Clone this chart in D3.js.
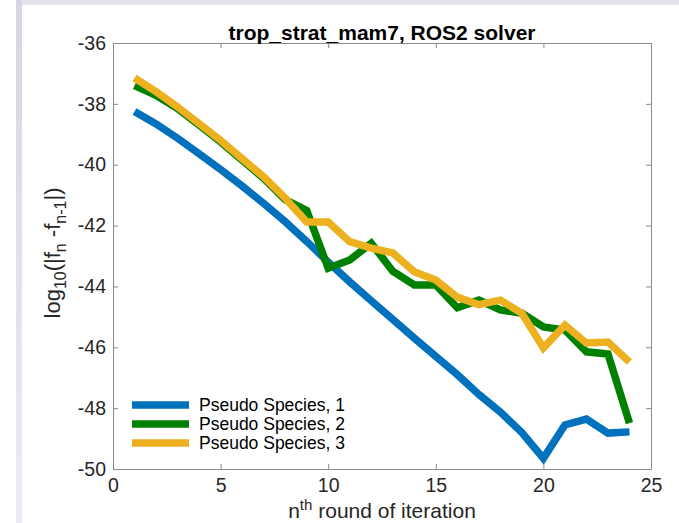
<!DOCTYPE html>
<html>
<head>
<meta charset="utf-8">
<script src="https://cdn.jsdelivr.net/npm/d3@7"></script>
<style>
  body { margin: 0; background: #fff; }
  svg { display: block; font-family: "Liberation Sans", Arial, sans-serif; }
</style>
</head>
<body>
<div id="chart"></div>
<script>
// iteration index n
const iterations = d3.range(1, 25);

const species1 = [-38.25, -38.66, -39.13, -39.64, -40.16, -40.7, -41.27, -41.87, -42.52, -43.2,
  -43.85, -44.47, -45.08, -45.7, -46.3, -46.9, -47.55, -48.13, -48.8, -49.65,
  -48.55, -48.36, -48.82, -48.78];
const species2 = [-37.4, -37.72, -38.15, -38.7, -39.25, -39.85, -40.45, -41.15, -41.5, -43.4,
  -43.13, -42.58, -43.5, -43.95, -43.95, -44.7, -44.45, -44.77, -44.88, -45.33,
  -45.43, -46.15, -46.22, -48.49];
const species3 = [-37.15, -37.6, -38.1, -38.65, -39.2, -39.8, -40.4, -41.1, -41.88, -41.88,
  -42.53, -42.74, -42.9, -43.52, -43.79, -44.35, -44.6, -44.45, -44.88, -46.02,
  -45.27, -45.86, -45.83, -46.48];

const seriesNames = ["Pseudo Species, 1", "Pseudo Species, 2", "Pseudo Species, 3"];
const seriesColors = ["#0072BD", "#008000", "#EDB120"];
const xTicks = [0, 5, 10, 15, 20, 25];
const yTicks = [-50, -48, -46, -44, -42, -40, -38, -36];

const W = 679, H = 523;
const mLeft = 113, mRight = 651, mTop = 43, mBottom = 469;
const fontFam = "Liberation Sans, Arial, sans-serif";

const svg = d3.select("#chart").append("svg")
  .attr("width", W).attr("height", H);

// slide-like background strips
const grad = svg.append("defs").append("linearGradient")
  .attr("id", "strip").attr("x1", 0).attr("y1", 0).attr("x2", 0).attr("y2", 1);
grad.append("stop").attr("offset", "0%").attr("stop-color", "#d6d6e4");
grad.append("stop").attr("offset", "100%").attr("stop-color", "#ececf4");
svg.append("rect").attr("x", 16).attr("y", 0).attr("width", W - 16).attr("height", 5).attr("fill", "#e3e3ec");
svg.append("rect").attr("x", 16).attr("y", 0).attr("width", 6).attr("height", H).attr("fill", "url(#strip)");

const x = d3.scaleLinear().domain([0, 25]).range([mLeft, mRight]);
const y = d3.scaleLinear().domain([-50, -36]).range([mBottom, mTop]);

const allSeries = [species1, species2, species3];

// lines
const line = d3.line().x((d, i) => x(iterations[i])).y(d => y(d));
allSeries.forEach((s, k) => {
  svg.append("path")
    .datum(s)
    .attr("d", line)
    .attr("fill", "none")
    .attr("stroke", seriesColors[k])
    .attr("stroke-width", 7.5)
    .attr("stroke-linejoin", "miter");
});

// axes (ticks inward, mirrored on top and right)
const axColor = "#8a8a8a";
const tk = 5;
svg.append("g").attr("transform", `translate(0,${mBottom})`)
  .call(d3.axisBottom(x).tickValues(xTicks).tickSizeInner(-tk).tickSizeOuter(0).tickPadding(9)
    .tickFormat(d => String(d)))
  .call(g => g.select(".domain").attr("stroke", axColor))
  .call(g => g.selectAll(".tick line").attr("stroke", axColor))
  .call(g => g.selectAll("text").attr("fill", "#262626").style("font-size", "19.5px")
    .style("font-family", fontFam));

svg.append("g").attr("transform", `translate(0,${mTop})`)
  .call(d3.axisTop(x).tickValues(xTicks).tickSizeInner(-tk).tickSizeOuter(0).tickFormat(""))
  .call(g => g.select(".domain").attr("stroke", axColor))
  .call(g => g.selectAll(".tick line").attr("stroke", axColor));

svg.append("g").attr("transform", `translate(${mLeft},0)`)
  .call(d3.axisLeft(y).tickValues(yTicks).tickSizeInner(-tk).tickSizeOuter(0).tickPadding(7)
    .tickFormat(d => String(d)))
  .call(g => g.select(".domain").attr("stroke", axColor))
  .call(g => g.selectAll(".tick line").attr("stroke", axColor))
  .call(g => g.selectAll("text").attr("fill", "#262626").style("font-size", "19.5px")
    .style("font-family", fontFam));

svg.append("g").attr("transform", `translate(${mRight},0)`)
  .call(d3.axisRight(y).tickValues(yTicks).tickSizeInner(-tk).tickSizeOuter(0).tickFormat(""))
  .call(g => g.select(".domain").attr("stroke", axColor))
  .call(g => g.selectAll(".tick line").attr("stroke", axColor));

// title
svg.append("text")
  .attr("x", (mLeft + mRight) / 2).attr("y", 40)
  .attr("text-anchor", "middle")
  .style("font-size", "21px").style("font-weight", "bold")
  .attr("fill", "#000")
  .text("trop_strat_mam7, ROS2 solver");

// x label
const xl = svg.append("text")
  .attr("x", (mLeft + mRight) / 2).attr("y", 518)
  .attr("text-anchor", "middle")
  .style("font-size", "21px").attr("fill", "#262626");
xl.append("tspan").text("n");
xl.append("tspan").attr("dy", -8).style("font-size", "15px").text("th");
xl.append("tspan").attr("dy", 8).text(" round of iteration");

// y label
const yl = svg.append("text")
  .attr("transform", `translate(60,${(mTop + mBottom) / 2 - 3}) rotate(-90)`)
  .attr("text-anchor", "middle")
  .style("font-size", "22px").attr("fill", "#262626");
yl.append("tspan").text("log");
yl.append("tspan").attr("dy", 6).style("font-size", "16px").text("10");
yl.append("tspan").attr("dy", -6).text("(|f");
yl.append("tspan").attr("dy", 6).style("font-size", "16px").text("n");
yl.append("tspan").attr("dy", -6).text(" -f");
yl.append("tspan").attr("dy", 6).style("font-size", "16px").text("n-1");
yl.append("tspan").attr("dy", -6).text("|)");

// legend
const legRows = [405, 424, 443];
seriesNames.forEach((name, k) => {
  svg.append("line")
    .attr("x1", 132).attr("x2", 189)
    .attr("y1", legRows[k]).attr("y2", legRows[k])
    .attr("stroke", seriesColors[k]).attr("stroke-width", 7.5);
  svg.append("text")
    .attr("x", 199).attr("y", legRows[k] + 6)
    .style("font-size", "17.5px").attr("fill", "#000")
    .text(name);
});
</script>
</body>
</html>
